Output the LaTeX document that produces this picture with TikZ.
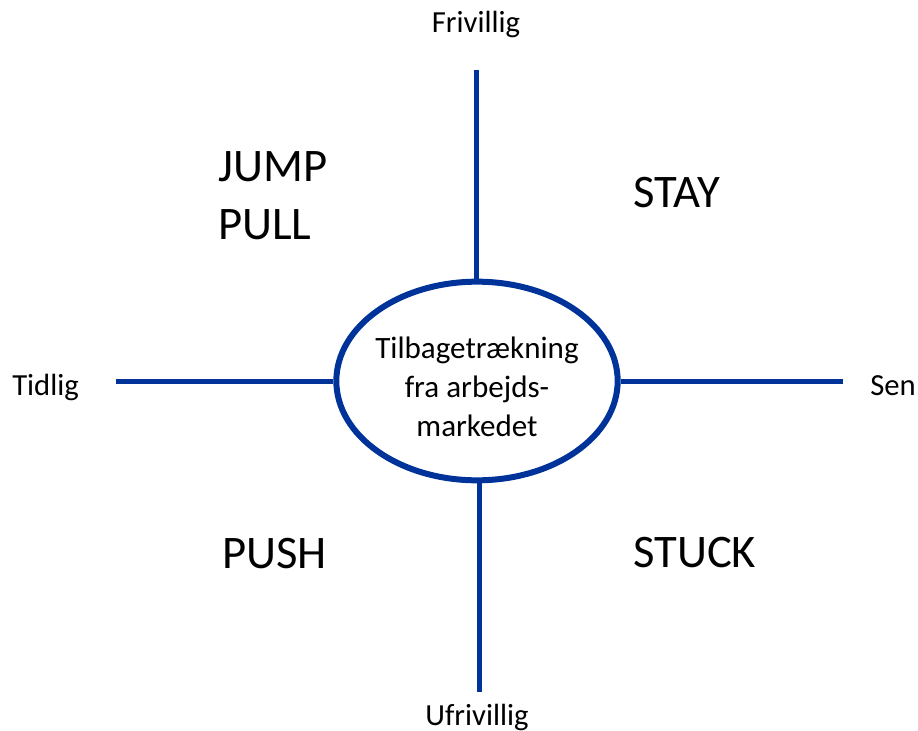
\documentclass[tikz,border=0pt]{standalone}
\usepackage{fontspec}
\setmainfont{Carlito}
\usepackage{xcolor}
\usetikzlibrary{
    shapes.geometric,
    calc,
    positioning
}
\definecolor{axisblue}{HTML}{003399}

\begin{document}
\begin{tikzpicture}[x=0.75pt, y=-0.75pt,
    axis/.style={draw=axisblue, line width=3.75pt},
    pole/.style={font=\fontsize{23}{28}\selectfont, inner sep=0pt},
    quad/.style={font=\fontsize{35}{43}\selectfont, inner sep=0pt, anchor=base west}]
                                \useasboundingbox (0, 0) rectangle (918, 731);

                                \node[ellipse, draw=axisblue, line width=4.5pt, minimum width=211pt, minimum height=149pt, inner sep=0pt] (tb) at (477, 381) {};
                                \node[align=center, inner sep=0pt, font=\fontsize{23.3}{29.3}\selectfont] (tbtext) at (477, 387) {Tilbagetrækning\\fra arbejds-\\markedet};

                                \coordinate (top) at (476, 70);
                                \coordinate (bot) at (479, 692);
                                \coordinate (left) at (116, 381);
                                \coordinate (right) at (843, 381);

                                \node[pole, anchor=base] (fri) at (476, 33) {Frivillig};
                                \node[pole, anchor=base] (ufri) at (477, 725) {Ufrivillig};
                                \node[pole, anchor=base west] (tid) at (12, 395) {Tidlig};
                                \node[pole, anchor=base west] (sen) at (870, 395) {Sen};

                                \node[quad] (jump) at (218, 182) {JUMP};
                                \node[quad] (pull) at (218, 240) {PULL};
                                \node[quad] (stay) at (633, 208) {STAY};
                                \node[quad] (push) at (222, 568) {PUSH};
                                \node[quad] (stuck) at (633, 567) {STUCK};

                                \draw[axis]
                                (top) -- (top |- tb.north)
                                (bot) -- (bot |- tb.south)
                                (left) -- (tb.west)
                                (right) -- (tb.east);
                            \end{tikzpicture}
\end{document}
